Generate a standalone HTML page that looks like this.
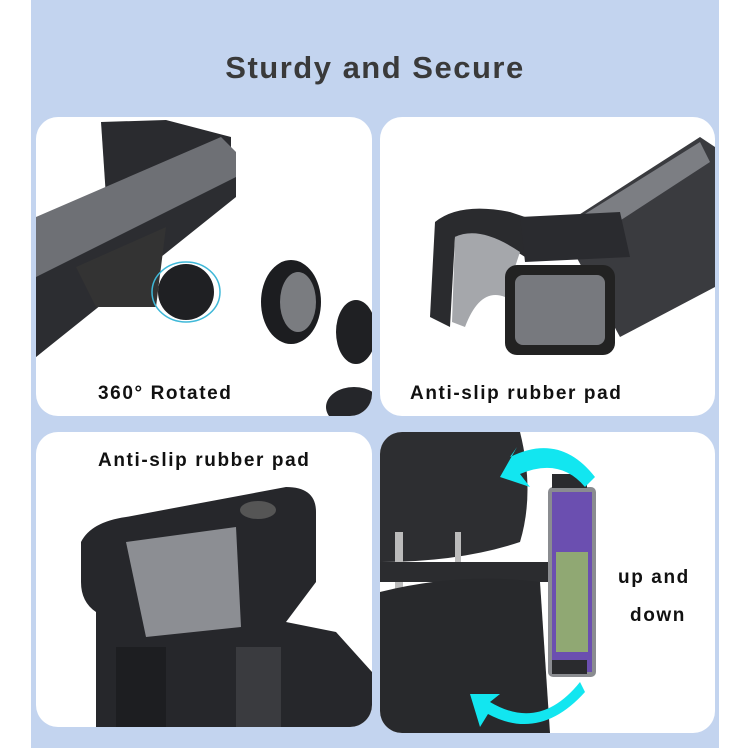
<!DOCTYPE html>
<html><head><style>
body{margin:0;width:750px;height:750px;background:#fff;position:relative;overflow:hidden;font-family:"Liberation Sans",sans-serif}
.bg{position:absolute;left:31px;top:0;width:688px;height:748px;background:#c3d4ef}
.p{position:absolute;background:#fff;border-radius:22px;overflow:hidden}
.t{position:absolute;font-size:19px;color:#111;white-space:nowrap;font-weight:bold;letter-spacing:1.6px}
</style></head><body>
<div class="bg"></div>
<div style="position:absolute;left:0;width:750px;top:50px;text-align:center;font-size:31px;color:#3a3a3a;font-weight:bold;letter-spacing:1.5px">Sturdy and Secure</div>

<div class="p" style="left:36px;top:117px;width:336px;height:299px">
<svg width="336" height="299">
<polygon points="65,5 130,3 195,20 195,60 70,80" fill="#2a2b2f"/>
<polygon points="0,100 185,20 200,35 200,75 0,240" fill="#6e7075"/>
<polygon points="0,160 200,60 200,80 0,240" fill="#2c2d31"/>
<polygon points="40,150 130,110 120,190 60,190" fill="#333"/>
<circle cx="150" cy="175" r="28" fill="#1f2023"/>
<ellipse cx="150" cy="175" rx="34" ry="30" fill="none" stroke="#3fb8d8" stroke-width="1.5"/>
<ellipse cx="255" cy="185" rx="30" ry="42" fill="#1c1d20"/>
<ellipse cx="262" cy="185" rx="18" ry="30" fill="#7a7c80"/>
<ellipse cx="320" cy="215" rx="20" ry="32" fill="#1f2023"/>
<ellipse cx="318" cy="290" rx="28" ry="20" fill="#25262a"/>
</svg>
<div class="t" style="left:62px;top:266px">360° Rotated</div>
</div>

<div class="p" style="left:380px;top:117px;width:335px;height:299px">
<svg width="335" height="299">
<polygon points="180,110 320,20 335,30 335,170 240,220" fill="#3a3b3f"/>
<polygon points="200,100 320,25 330,45 215,120" fill="#7c7e83"/>
<path d="M55,105 Q80,85 130,95 L145,100 L145,140 Q100,110 75,120 L70,210 L50,200 Z" fill="#2a2b2e"/>
<path d="M75,120 Q100,108 140,135 L125,180 Q100,170 85,210 L72,205 Z" fill="#a5a7ab"/>
<polygon points="140,100 240,95 250,140 145,145" fill="#2a2b2f"/>
<rect x="125" y="148" width="110" height="90" rx="12" fill="#222"/>
<rect x="135" y="158" width="90" height="70" rx="8" fill="#77797e"/>
</svg>
<div class="t" style="left:30px;top:266px">Anti-slip rubber pad</div>
</div>

<div class="p" style="left:36px;top:432px;width:336px;height:295px">
<svg width="336" height="295">
<path d="M45,110 Q55,90 90,85 L250,55 Q280,55 280,80 L280,150 L250,190 L300,200 L336,240 L336,295 L60,295 L60,180 Q45,170 45,150 Z" fill="#26272b"/>
<polygon points="90,110 200,95 205,195 110,205" fill="#8c8e93"/>
<ellipse cx="222" cy="78" rx="18" ry="9" fill="#555"/>
<rect x="80" y="215" width="50" height="80" fill="#1d1e21"/>
<rect x="200" y="215" width="45" height="80" fill="#3a3b3f"/>
</svg>
<div class="t" style="left:62px;top:18px">Anti-slip rubber pad</div>
</div>

<div class="p" style="left:380px;top:432px;width:335px;height:301px">
<svg width="335" height="301">
<path d="M0,0 L140,0 Q155,60 140,110 Q80,130 0,130 Z" fill="#2d2e31"/>
<rect x="15" y="100" width="8" height="60" fill="#bbb"/>
<rect x="75" y="100" width="6" height="40" fill="#bbb"/>
<rect x="0" y="130" width="170" height="20" fill="#2b2c2f"/>
<path d="M0,160 Q80,140 160,150 L170,301 L0,301 Z" fill="#28292c"/>
<rect x="168" y="55" width="48" height="190" rx="5" fill="#8a8c90"/>
<rect x="172" y="60" width="40" height="180" fill="#6b4fb0"/>
<rect x="176" y="120" width="32" height="100" fill="#9fcf5a" opacity=".7"/>
<rect x="172" y="42" width="35" height="14" fill="#2a2b2e"/>
<rect x="172" y="228" width="35" height="14" fill="#2a2b2e"/>
<path d="M215,45 Q180,0 130,25 L137,15 L120,45 L150,55 L140,42 Q180,25 205,55 Z" fill="#12e6f0"/>
<path d="M200,250 Q160,300 110,270 L120,262 L90,262 L100,295 L108,282 Q160,310 205,260 Z" fill="#12e6f0"/>
</svg>
<div class="t" style="left:238px;top:135px">up and</div>
<div class="t" style="left:250px;top:173px">down</div>
</div>
</body></html>
